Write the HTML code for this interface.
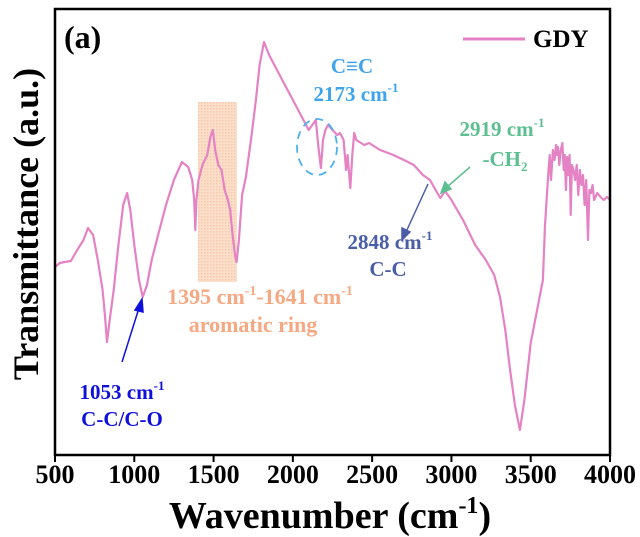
<!DOCTYPE html>
<html><head><meta charset="utf-8">
<style>
html,body{margin:0;padding:0;background:#fff;}
svg{display:block;font-family:"Liberation Serif",serif;font-weight:bold;}
</style></head>
<body>
<svg id="chart" width="640" height="537" viewBox="0 0 640 537" xmlns="http://www.w3.org/2000/svg">
<defs>
<pattern id="hatch" width="3" height="3" patternUnits="userSpaceOnUse">
<rect width="3" height="3" fill="#fbd9c2"/>
<rect width="1.5" height="1.5" fill="#f6bf9c"/>
</pattern>
</defs>
<rect x="198" y="102" width="39" height="180" fill="url(#hatch)" opacity="0.85"/>
<g id="plot"></g>
<rect x="55" y="9" width="555" height="446" fill="none" stroke="#000" stroke-width="2.5"/>
<g id="xticks"></g>
<text x="64" y="48" font-size="32">(a)</text>
<line x1="463" y1="39" x2="525" y2="39" stroke="#e482c4" stroke-width="3"/>
<text x="533" y="47" font-size="25">GDY</text>
<text transform="translate(38,224) rotate(-90)" text-anchor="middle" font-size="36">Transmittance (a.u.)</text>
<text x="330" y="528" text-anchor="middle" font-size="38">Wavenumber (cm<tspan font-size="24" dy="-15">-1</tspan><tspan dy="15">)</tspan></text>
<ellipse cx="317" cy="147" rx="20" ry="28" fill="none" stroke="#4fb0ee" stroke-width="1.8" stroke-dasharray="8,6"/>
<text x="352" y="73" text-anchor="middle" font-size="21" fill="#3fa4ee">C≡C</text>
<text x="356" y="101" text-anchor="middle" font-size="21" fill="#3fa4ee">2173 cm<tspan font-size="13" dy="-9">-1</tspan></text>
<text x="502" y="136" text-anchor="middle" font-size="21" fill="#5cbf8f">2919 cm<tspan font-size="13" dy="-9">-1</tspan></text>
<text x="505" y="166" text-anchor="middle" font-size="21" fill="#5cbf8f">-CH<tspan font-size="13" dy="5">2</tspan></text>
<text x="390" y="249" text-anchor="middle" font-size="21" fill="#4a5ea8">2848 cm<tspan font-size="13" dy="-9">-1</tspan></text>
<text x="388" y="276" text-anchor="middle" font-size="21" fill="#4a5ea8">C-C</text>
<text x="260" y="304" text-anchor="middle" font-size="22" fill="#f5a882">1395 cm<tspan font-size="14" dy="-9">-1</tspan><tspan dy="9">-1641 cm</tspan><tspan font-size="14" dy="-9">-1</tspan></text>
<text x="253" y="332" text-anchor="middle" font-size="22" fill="#f5a882">aromatic ring</text>
<text x="122" y="399" text-anchor="middle" font-size="21" fill="#1010dd">1053 cm<tspan font-size="13" dy="-9">-1</tspan></text>
<text x="122" y="426" text-anchor="middle" font-size="21" fill="#1010dd">C-C/C-O</text>
<g stroke="#1010dd" fill="#1010dd" stroke-width="1.5">
<line x1="122" y1="362" x2="139" y2="308"/><polygon points="142,299 135,310 143,312"/></g>
<g stroke="#4a5ea8" fill="#4a5ea8" stroke-width="1.5">
<line x1="428" y1="184" x2="406" y2="232"/><polygon points="402,240 402,228 410,232"/></g>
<g stroke="#5cbf8f" fill="#5cbf8f" stroke-width="1.5">
<line x1="470" y1="167" x2="447" y2="187"/><polygon points="441,193 445,182 451,189"/></g>
</svg>
<script>
const wavenumbers=[500,530,560,600,640,680,708,740,770,800,815,828,845,870,900,930,955,975,1000,1030,1053,1080,1110,1150,1200,1250,1300,1340,1365,1378,1385,1392,1405,1430,1460,1480,1496,1510,1530,1550,1570,1590,1605,1620,1635,1645,1660,1680,1704,1740,1767,1790,1818,1850,1900,1950,2000,2050,2100,2145,2160,2177,2190,2205,2221,2250,2280,2297,2320,2336,2345,2362,2375,2387,2400,2450,2480,2550,2634,2700,2763,2820,2865,2900,2930,2960,3000,3073,3150,3217,3270,3306,3340,3370,3400,3432,3460,3500,3540,3577,3590,3600,3610,3620,3628,3640,3650,3660,3665,3672,3680,3690,3700,3708,3715,3722,3730,3738,3745,3752,3760,3770,3780,3790,3800,3810,3820,3830,3840,3850,3861,3870,3880,3890,3900,3920,3940,3960,3980,4000];
const transmittance=[188,192,193,194,205,215,227,220,195,165,140,113,135,165,210,250,262,245,210,175,158,170,195,220,250,275,293,288,275,255,225,255,275,290,300,318,325,305,290,285,265,255,245,220,200,193,215,260,278,320,355,390,413,400,385,370,355,340,325,335,310,287,315,325,330,325,320,322,315,285,300,267,300,322,315,310,312,305,300,295,290,280,275,265,257,264,255,235,210,195,180,158,125,85,50,25,55,112,145,175,230,255,280,300,275,305,295,310,300,308,290,305,312,285,300,265,298,280,300,240,290,285,275,290,260,285,270,280,250,275,215,265,262,270,255,262,258,255,258,255];
const xs=w=>55+(w-500)*(555/3500);
const ys=v=>455-v;
const NS='http://www.w3.org/2000/svg';
const plot=document.getElementById('plot');
let d='';
for(let i=0;i<wavenumbers.length;i++){d+=(i?'L':'M')+xs(wavenumbers[i]).toFixed(1)+','+ys(transmittance[i]).toFixed(1);}
const p=document.createElementNS(NS,'path');
p.setAttribute('d',d);p.setAttribute('fill','none');p.setAttribute('stroke','#e482c4');
p.setAttribute('stroke-width','2.2');p.setAttribute('stroke-linejoin','round');


plot.appendChild(p);
const tickValues=[500,1000,1500,2000,2500,3000,3500,4000];
const xt=document.getElementById('xticks');
tickValues.forEach(t=>{
const l=document.createElementNS(NS,'line');
l.setAttribute('x1',xs(t));l.setAttribute('x2',xs(t));l.setAttribute('y1',455);l.setAttribute('y2',462);
l.setAttribute('stroke','#000');l.setAttribute('stroke-width','2');


xt.appendChild(l);
const tx=document.createElementNS(NS,'text');
tx.setAttribute('x',xs(t));tx.setAttribute('y',483);tx.setAttribute('text-anchor','middle');tx.setAttribute('font-size','26');
tx.textContent=t;


xt.appendChild(tx);
});
</script>
</body></html>
